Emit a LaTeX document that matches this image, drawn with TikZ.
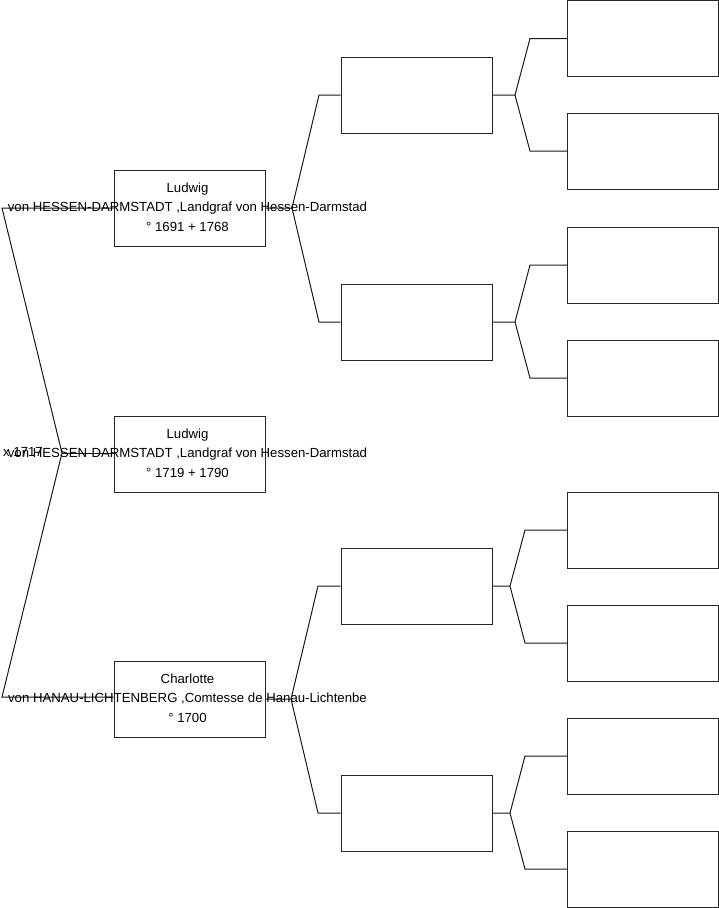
\documentclass[tikz,border=0pt]{standalone}
\usepackage{fontspec}
\setmainfont{Liberation Sans}
\begin{document}
\begin{tikzpicture}[x=1pt,y=-1pt,
  box/.style={draw=black!85,line width=1pt,minimum width=151pt,minimum height=76pt,inner sep=0pt,anchor=center},
  txt/.style={align=center,inner sep=0pt,font=\fontsize{13.2}{19.5}\selectfont},
  conn/.style={draw=black!90,line width=1pt}]
\useasboundingbox (0,0) rectangle (719,908);
% column 1
\node[box] (a1) at (189.5,208) {};
\node[box] (a2) at (189.5,454) {};
\node[box] (a3) at (189.5,699) {};
% column 2
\node[box] (b1) at (416.5,95) {};
\node[box] (b2) at (416.5,322) {};
\node[box] (b3) at (416.5,586) {};
\node[box] (b4) at (416.5,813) {};
% column 3
\node[box] (c1) at (643,38.5) {};
\node[box] (c2) at (643,151) {};
\node[box] (c3) at (643,265) {};
\node[box] (c4) at (643,378) {};
\node[box] (c5) at (643,530) {};
\node[box] (c6) at (643,643) {};
\node[box] (c7) at (643,756) {};
\node[box] (c8) at (643,869) {};
% left fork
\coordinate (l1) at (2,208);
\coordinate (lm) at (62,453);
\coordinate (l3) at (2,697);
\draw[conn] (a1.west) -- (l1) -- (lm) -- (l3) -- (a3.west |- l3);
\draw[conn] (lm) -- (a2.west |- lm);
% col1 -> col2
\coordinate (f1) at (292,208);
\draw[conn] (a1.east) -- (f1) -- (319,95) -- (b1.west);
\draw[conn] (f1) -- (319,322) -- (b2.west);
\coordinate (f3) at (291,699);
\draw[conn] (a3.east) -- (f3) -- (318,586) -- (b3.west);
\draw[conn] (f3) -- (318,813) -- (b4.west);
% col2 -> col3
\coordinate (g1) at (515,95);
\draw[conn] (b1.east) -- (g1) -- (530,38.5) -- (c1.west);
\draw[conn] (g1) -- (530,151) -- (c2.west);
\coordinate (g2) at (515,322);
\draw[conn] (b2.east) -- (g2) -- (530,265) -- (c3.west);
\draw[conn] (g2) -- (530,378) -- (c4.west);
\coordinate (g3) at (510,586);
\draw[conn] (b3.east) -- (g3) -- (525,530) -- (c5.west);
\draw[conn] (g3) -- (525,643) -- (c6.west);
\coordinate (g4) at (510,813);
\draw[conn] (b4.east) -- (g4) -- (525,756) -- (c7.west);
\draw[conn] (g4) -- (525,869) -- (c8.west);
% texts
\node[txt] (t1) at (187.5,207) {Ludwig\\von HESSEN-DARMSTADT ,Landgraf von Hessen-Darmstad\\° 1691 + 1768};
\node[txt] (t2) at (187.5,453) {Ludwig\\von HESSEN-DARMSTADT ,Landgraf von Hessen-Darmstad\\° 1719 + 1790};
\node[txt] (t3) at (187.5,698) {Charlotte\\von HANAU-LICHTENBERG ,Comtesse de Hanau-Lichtenbe\\° 1700};
\node[txt,anchor=west] (m1) at (3,452) {x 1717};
\end{tikzpicture}
\end{document}
